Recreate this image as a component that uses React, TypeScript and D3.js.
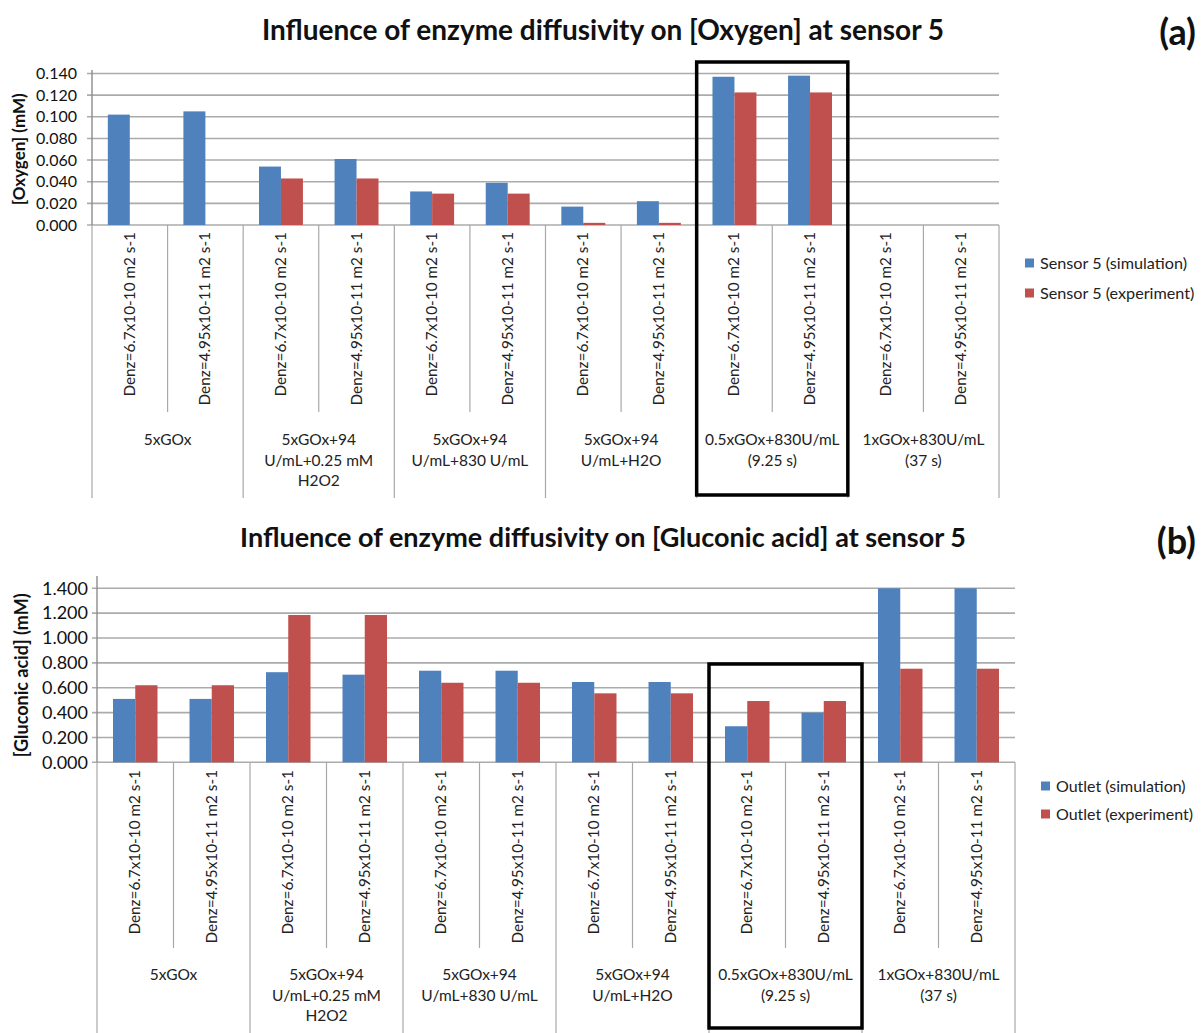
import React from "react";
import * as d3 from "d3";

const subLabels = ["Denz=6.7x10-10 m2 s-1", "Denz=4.95x10-11 m2 s-1"];
const groupLabels: string[][] = [
  ["5xGOx"],
  ["5xGOx+94", "U/mL+0.25 mM", "H2O2"],
  ["5xGOx+94", "U/mL+830 U/mL"],
  ["5xGOx+94", "U/mL+H2O"],
  ["0.5xGOx+830U/mL", "(9.25 s)"],
  ["1xGOx+830U/mL", "(37 s)"],
];
const categories = groupLabels.flatMap((_, g) => subLabels.map((s) => `${g}|${s}`));

const oxygenSim = [0.102, 0.105, 0.054, 0.061, 0.031, 0.039, 0.017, 0.022, 0.137, 0.138, 0, 0];
const oxygenExp = [0, 0, 0.043, 0.043, 0.029, 0.029, 0.002, 0.002, 0.1225, 0.1225, 0, 0];
const gluconicSim = [0.51, 0.51, 0.725, 0.705, 0.737, 0.737, 0.646, 0.646, 0.29, 0.4, 1.4, 1.4];
const gluconicExp = [0.62, 0.62, 1.185, 1.185, 0.64, 0.64, 0.555, 0.555, 0.493, 0.493, 0.753, 0.753];

const oxygenTicks = [0, 0.02, 0.04, 0.06, 0.08, 0.1, 0.12, 0.14];
const gluconicTicks = [0, 0.2, 0.4, 0.6, 0.8, 1.0, 1.2, 1.4];

const oxygenLegend = ["Sensor 5 (simulation)", "Sensor 5 (experiment)"];
const gluconicLegend = ["Outlet (simulation)", "Outlet (experiment)"];

const BLUE = "#4F81BD";
const RED = "#C0504D";
const FONT = "Lato, 'Open Sans', sans-serif";

type ChartProps = {
  title: string;
  tag: string;
  yTitle: string;
  sim: number[];
  exp: number[];
  ticks: number[];
  legend: string[];
  L: {
    titleY: number;
    titleSize: number;
    tagY: number;
    x0: number;
    x1: number;
    yTop: number;
    yZero: number;
    axisTop: number;
    tickLabelGap: number;
    tickSize: number;
    yTitleX: number;
    yTitleSize: number;
    labelTop: number;
    innerBottom: number;
    groupY: number;
    groupBottom: number;
    legendX: number;
    legendY: number[];
    legendSize: number;
    boxTop: number;
    boxBottom: number;
  };
};

function Chart({ title, tag, yTitle, sim, exp, ticks, legend, L }: ChartProps) {
  const x = d3.scaleBand<string>().domain(categories).range([L.x0, L.x1]).padding(0);
  const step = x.step();
  const inner = d3
    .scaleBand<string>()
    .domain(["sim", "exp"])
    .range([0, step])
    .paddingInner(0)
    .paddingOuter(0.72);
  const y = d3
    .scaleLinear()
    .domain([0, ticks[ticks.length - 1]])
    .range([L.yZero, L.yTop]);
  const fmt = d3.format(".3f");
  const series = [
    { key: "sim", values: sim, color: BLUE },
    { key: "exp", values: exp, color: RED },
  ];
  const boxX0 = x(categories[8])!;
  const boxX1 = x(categories[10])!;
  return (
    <g>
      <text
        x={603}
        y={L.titleY}
        textAnchor="middle"
        fontFamily={FONT}
        fontWeight="bold"
        fontSize={L.titleSize}
        fill="#111"
      >
        {title}
      </text>
      <text x={1196} y={L.tagY} textAnchor="end" fontFamily={FONT} fontWeight="bold" fontSize={36} fill="#111">
        {tag}
      </text>
      {ticks.map((t) => (
        <line
          key={"g" + t}
          x1={L.x0 - 5}
          x2={L.x1}
          y1={y(t)}
          y2={y(t)}
          stroke="#ababab"
          strokeWidth={1.6}
        />
      ))}
      {ticks.map((t) => (
        <text
          key={"t" + t}
          x={L.x0 - L.tickLabelGap}
          y={y(t)}
          dy="0.35em"
          textAnchor="end"
          fontFamily={FONT}
          fontSize={L.tickSize}
          fill="#111"
        >
          {fmt(t)}
        </text>
      ))}
      <text
        transform={`translate(${L.yTitleX},${(L.yTop + L.yZero) / 2}) rotate(-90)`}
        textAnchor="middle"
        fontFamily={FONT}
        fontWeight="bold"
        fontSize={L.yTitleSize}
        fill="#111"
      >
        {yTitle}
      </text>
      {series.map((s) =>
        s.values.map((v, i) =>
          v > 0 ? (
            <rect
              key={s.key + i}
              x={x(categories[i])! + inner(s.key)!}
              width={inner.bandwidth()}
              y={y(v)}
              height={L.yZero - y(v)}
              fill={s.color}
            />
          ) : null
        )
      )}
      <line x1={L.x0} x2={L.x0} y1={L.axisTop} y2={L.yZero} stroke="#8c8c8c" strokeWidth={1.4} />
      {categories.map((c, i) => {
        const xx = x(c)!;
        const isGroup = i % 2 === 0;
        return (
          <line
            key={"s" + i}
            x1={xx}
            x2={xx}
            y1={L.yZero}
            y2={isGroup ? L.groupBottom : L.innerBottom}
            stroke="#a8a8a8"
            strokeWidth={1.2}
          />
        );
      })}
      <line x1={L.x1} x2={L.x1} y1={L.yZero} y2={L.groupBottom} stroke="#a8a8a8" strokeWidth={1.2} />
      {categories.map((c, i) => (
        <text
          key={"c" + i}
          transform={`translate(${x(c)! + step / 2 + 5},${L.labelTop}) rotate(-90)`}
          textAnchor="end"
          fontFamily={FONT}
          fontSize={15.3}
          fill="#222"
        >
          {subLabels[i % 2]}
        </text>
      ))}
      {groupLabels.map((lines, g) => {
        const cx = x(categories[g * 2])! + step;
        return (
          <text key={"gl" + g} textAnchor="middle" fontFamily={FONT} fontSize={15.5} fill="#222">
            {lines.map((ln, k) => (
              <tspan key={k} x={cx} y={L.groupY + k * 20.5}>
                {ln}
              </tspan>
            ))}
          </text>
        );
      })}
      <rect
        x={boxX0}
        y={L.boxTop}
        width={boxX1 - boxX0}
        height={L.boxBottom - L.boxTop}
        fill="none"
        stroke="#000"
        strokeWidth={3.5}
      />
      {legend.map((lbl, k) => (
        <g key={"lg" + k}>
          <rect x={L.legendX} y={L.legendY[k] - 4.5} width={9} height={9} fill={k === 0 ? BLUE : RED} />
          <text
            x={L.legendX + 15}
            y={L.legendY[k]}
            dy="0.35em"
            fontFamily={FONT}
            fontSize={L.legendSize}
            fill="#222"
          >
            {lbl}
          </text>
        </g>
      ))}
    </g>
  );
}

export default function App() {
  return (
    <svg
      width={1203}
      height={1033}
      style={{ position: "absolute", left: 0, top: 0, background: "#fff" }}
    >
      <rect width={1203} height={1033} fill="#fff" />
      <Chart
        title="Influence of enzyme diffusivity on [Oxygen] at sensor 5"
        tag="(a)"
        yTitle="[Oxygen] (mM)"
        sim={oxygenSim}
        exp={oxygenExp}
        ticks={oxygenTicks}
        legend={oxygenLegend}
        L={{
          titleY: 40,
          titleSize: 28,
          tagY: 45,
          x0: 92,
          x1: 999,
          yTop: 73.5,
          yZero: 225,
          axisTop: 70,
          tickLabelGap: 15,
          tickSize: 16,
          yTitleX: 25,
          yTitleSize: 17,
          labelTop: 232,
          innerBottom: 412,
          groupY: 445,
          groupBottom: 498,
          legendX: 1025,
          legendY: [263, 293],
          legendSize: 16.2,
          boxTop: 62,
          boxBottom: 495,
        }}
      />
      <Chart
        title="Influence of enzyme diffusivity on [Gluconic acid] at sensor 5"
        tag="(b)"
        yTitle="[Gluconic acid] (mM)"
        sim={gluconicSim}
        exp={gluconicExp}
        ticks={gluconicTicks}
        legend={gluconicLegend}
        L={{
          titleY: 547,
          titleSize: 27,
          tagY: 554,
          x0: 97,
          x1: 1015,
          yTop: 588.3,
          yZero: 762.3,
          axisTop: 576,
          tickLabelGap: 9,
          tickSize: 18,
          yTitleX: 28,
          yTitleSize: 18,
          labelTop: 770,
          innerBottom: 948,
          groupY: 980,
          groupBottom: 1033,
          legendX: 1041,
          legendY: [786, 814],
          legendSize: 16,
          boxTop: 664,
          boxBottom: 1028,
        }}
      />
    </svg>
  );
}
